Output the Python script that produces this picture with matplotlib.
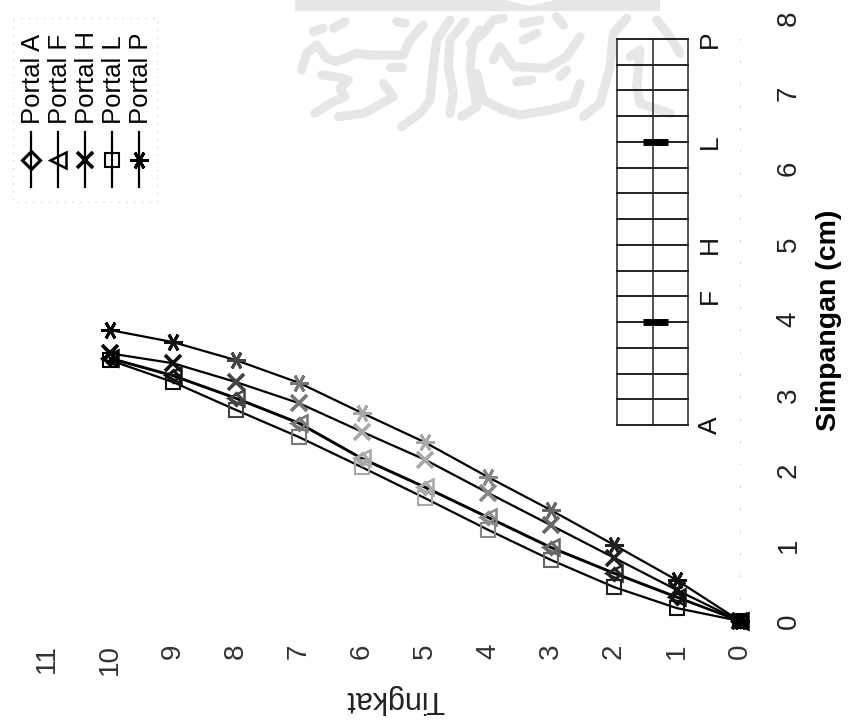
import numpy as np
import matplotlib
matplotlib.use("Agg")
import matplotlib.pyplot as plt

plt.rcParams["font.family"] = ["Liberation Sans", "DejaVu Sans"]

W, H = 851, 727

levels = np.arange(0, 11)
portal_a = [0, 0.31, 0.63, 0.97, 1.37, 1.77, 2.15, 2.62, 2.95, 3.25, 3.48]
portal_f = [0, 0.32, 0.64, 0.98, 1.38, 1.78, 2.16, 2.63, 2.96, 3.26, 3.49]
portal_h = [0, 0.41, 0.84, 1.27, 1.70, 2.14, 2.51, 2.89, 3.17, 3.42, 3.55]
portal_l = [0, 0.17, 0.45, 0.81, 1.21, 1.63, 2.04, 2.44, 2.80, 3.17, 3.46]
portal_p = [0, 0.54, 1.01, 1.47, 1.91, 2.37, 2.76, 3.16, 3.46, 3.70, 3.86]

legend_labels = ["Portal A", "Portal F", "Portal H", "Portal L", "Portal P"]
x_ticks = list(range(0, 12))
y_ticks = list(range(0, 9))

# plan of the building in the inset: grid lines, and which lines are named / braced
bay_lines = list(range(0, 16))
column_lines = [0, 1, 2]
portal_names = ["A", "F", "H", "L", "P"]
portal_lines = [0, 5, 7, 11, 15]
braced_lines = [4, 11]

# the scan fades the markers in the middle of the plot
marker_shade = {0: "#000000", 1: "#111111", 2: "#222222", 3: "#666666", 4: "#888888",
                5: "#a8a8a8", 6: "#a8a8a8", 7: "#777777", 8: "#444444", 9: "#111111", 10: "#000000"}

# marker, chart size, legend size, edge width
styles = [
    ("D", 6, 9, 2.2),
    ("<", 11, 11, 1.8),
    ("x", 11, 11, 2.6),
    ("s", 10.5, 10.5, 1.5),
    ((6, 2, 90), 13, 13, 2.1),
]

# watermark strokes in image pixels (band + calligraphy)
wm_left = [
    [(95, 210), (110, 160), (140, 135), (170, 175), (200, 185), (260, 160), (300, 165), (400, 165), (420, 120), (460, 75)],
    [(130, 95), (160, 85)], [(190, 85), (225, 65)], [(380, 65), (405, 70)], [(360, 200), (395, 200)],
    [(155, 225), (195, 230), (235, 240), (210, 265), (225, 290), (180, 310), (135, 340)],
    [(205, 350), (280, 340), (310, 325), (370, 290), (340, 250)],
    [(395, 380), (450, 340), (480, 300), (490, 200), (500, 120), (540, 60)],
    [(540, 340), (550, 280), (535, 200), (540, 120), (585, 65)],
    [(575, 350), (620, 320), (600, 200), (610, 120), (630, 90)],
]
wm_right = [
    [(0, 130), (40, 100), (70, 60), (100, 55)],
    [(20, 220), (40, 300), (100, 330), (150, 345), (240, 330), (310, 310), (330, 250)],
    [(70, 180), (90, 140), (130, 200), (230, 205), (290, 170), (330, 110)],
    [(160, 70), (210, 60)], [(160, 120), (200, 100)], [(140, 245), (185, 240)],
    [(260, 50), (280, 75)], [(270, 230), (290, 210)],
    [(340, 350), (390, 310), (420, 200), (430, 100), (470, 55)],
    [(480, 170), (510, 150), (500, 260), (510, 310), (600, 340)],
    [(560, 60), (600, 110), (630, 160)],
]


def px_axes(fig, left, top, right, bottom):
    return fig.add_axes([left / W, (H - bottom) / H, (right - left) / W, (bottom - top) / H])


fig = plt.figure(figsize=(W / 100, H / 100), dpi=100, facecolor="white")

# background layer in pixel coordinates for the watermark and legend
bg = fig.add_axes([0, 0, 1, 1], zorder=0)
bg.set_xlim(0, W)
bg.set_ylim(H, 0)
bg.axis("off")
bg.fill([295, 505, 530, 555, 660, 660, 295], [0, 0, 6, 0, 0, 11, 11], color="#e6e6e6", lw=0)
for group, x0 in ((wm_left, 270), (wm_right, 470)):
    for stroke in group:
        xs = [x0 + p[0] / 3 for p in stroke]
        ys = [p[1] / 3 for p in stroke]
        bg.plot(xs, ys, color="#e6e6e6", lw=6.5, solid_capstyle="round", solid_joinstyle="round")

# main chart, drawn as in the scanned page turned a quarter turn
ax = px_axes(fig, 47, 18, 740, 621)
ax.set_zorder(2)
ax.patch.set_alpha(0)
ax.set_xlim(11, 0)
ax.set_ylim(0, 8)
for spine in ax.spines.values():
    spine.set_visible(False)
ax.spines["right"].set_visible(True)
ax.spines["right"].set_color("#c8c8c8")
ax.spines["right"].set_linewidth(0.7)
ax.spines["right"].set_linestyle((0, (1, 22)))

series = [portal_a, portal_f, portal_h, portal_l, portal_p]
for values, (marker, size, _, mew) in zip(series, styles):
    ax.plot(levels, values, color="black", lw=1.6, zorder=2)
    for lv, val in zip(levels, values):
        ax.plot([lv], [val], ls="none", marker=marker, ms=size, mew=mew, mfc="none",
                mec=marker_shade[int(lv)], zorder=3, clip_on=False)

ax.set_xticks(x_ticks)
ax.set_yticks(y_ticks)
ax.yaxis.tick_right()
ax.tick_params(axis="x", length=0, pad=16.5, labelsize=20, labelrotation=90, labelcolor="#333333")
ax.tick_params(axis="y", length=0, pad=25.5, labelsize=20, labelrotation=90, labelcolor="#222222")
for lab in ax.get_yticklabels():
    lab.set_va("center")
for lab in ax.get_xticklabels():
    lab.set_ha("center")

ax.set_xlabel("Tingkat", fontsize=22, rotation=180, color="#222222", va="center", ha="center")
ax.xaxis.set_label_coords((395 - 47) / 693, (621 - 699) / 603)
ax.yaxis.set_label_position("right")
ax.set_ylabel("Simpangan (cm)", fontsize=20.5, fontweight="bold", rotation=90, va="center", ha="center")
ax.yaxis.set_label_coords((829 - 47) / 693, 0.499)

# legend, in pixels because a rotated legend is not available from ax.legend
legend_x = [31, 58, 85, 112, 139]
for x, label, (marker, _, size, mew) in zip(legend_x, legend_labels, styles):
    bg.plot([x, x], [132, 187], color="black", lw=1.6)
    bg.plot([x], [160], ls="none", marker=marker, ms=size, mew=mew, mfc="none", mec="black")
    bg.text(x + 2, 124, label, rotation=90, fontsize=18.5, ha="center", va="bottom")
bg.plot([13, 157, 157, 13, 13], [18, 18, 202, 202, 18], color="#bbbbbb", lw=0.7, ls=(0, (1, 7)))

# inset: plan of the building with braced bays
inset = px_axes(fig, 617, 39, 688, 425)
inset.set_zorder(3)
inset.patch.set_alpha(0)
inset.set_xlim(0, 2)
inset.set_ylim(0, 15)
inset.axis("off")
for line in bay_lines:
    inset.plot(column_lines, [line] * 3, color="#111111", lw=1.3, clip_on=False)
for col in column_lines:
    inset.plot([col, col], [0, 15], color="#222222", lw=1.1, clip_on=False)
for line in braced_lines:
    inset.plot([0.74, 1.44], [line, line], color="black", lw=5, solid_capstyle="butt", clip_on=False)
for name, line in zip(portal_names, portal_lines):
    inset.annotate(name, (2, line), xytext=(7, 0), textcoords="offset points", rotation=90,
                   fontsize=19, ha="left", va="center", color="#111111")

fig.savefig("out.png", dpi=100)
plt.close(fig)
